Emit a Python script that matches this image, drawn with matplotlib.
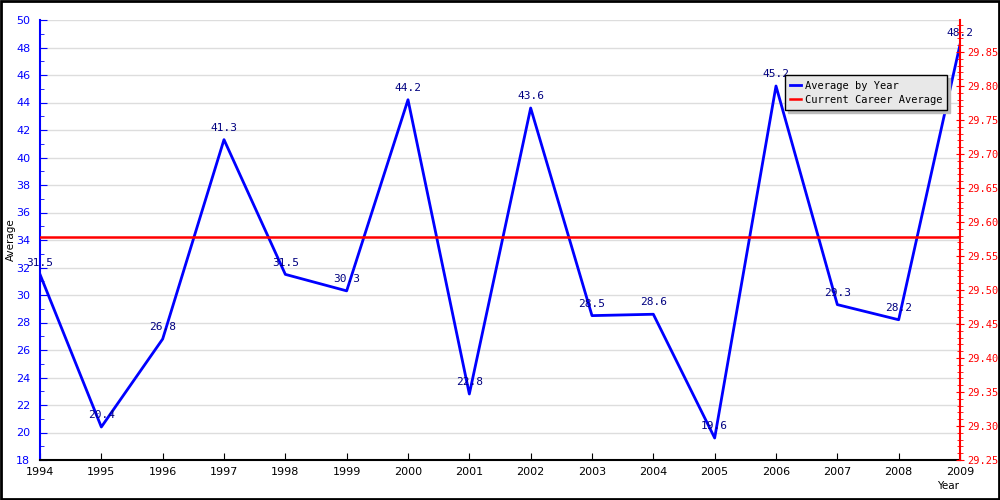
import matplotlib.pyplot as plt
from matplotlib.ticker import MultipleLocator, FormatStrFormatter
from matplotlib.patches import Rectangle

years = [1994, 1995, 1996, 1997, 1998, 1999, 2000, 2001, 2002, 2003,
         2004, 2005, 2006, 2007, 2008, 2009]
averages = [31.5, 20.4, 26.8, 41.3, 31.5, 30.3, 44.2, 22.8, 43.6, 28.5,
            28.6, 19.6, 45.2, 29.3, 28.2, 48.2]
career_avg = 29.578

fig = plt.figure(figsize=(10, 5), dpi=100)
fig.patch.set_facecolor("white")
fig.add_artist(Rectangle((0.001, 0.002), 0.998, 0.996, transform=fig.transFigure,
                         fill=False, edgecolor="black", linewidth=2))

ax = fig.add_axes([0.04, 0.08, 0.92, 0.88])
ax2 = ax.twinx()

# Average by year (left axis)
ax.plot(years, averages, color="blue", linewidth=2, label="Average by Year", zorder=3)
for x, y in zip(years, averages):
    ax.text(x, y + 0.5, f"{y:.1f}", ha="center", va="bottom", color="#000080",
            fontsize=8, family="DejaVu Sans Mono", zorder=4)

ax.set_xlim(1994, 2009)
ax.set_ylim(18, 50)
ax.set_xticks(years)
ax.yaxis.set_major_locator(MultipleLocator(2))
ax.yaxis.set_minor_locator(MultipleLocator(1))
ax.grid(axis="y", which="major", color="#dddddd", linewidth=1)
ax.set_axisbelow(True)
ax.tick_params(axis="y", which="both", colors="blue", labelsize=8, direction="in", pad=7)
ax.tick_params(axis="y", which="major", length=5)
ax.tick_params(axis="y", which="minor", length=3)
ax.tick_params(axis="x", direction="in", length=5, labelsize=8, colors="black", pad=5)
ax.spines["left"].set_color("blue")
ax.spines["left"].set_linewidth(1.5)
ax.spines["bottom"].set_linewidth(1.5)
ax.spines["top"].set_visible(False)
ax.spines["right"].set_visible(False)
fig.text(0.011, 0.52, "Average", rotation=90, ha="center", va="center", fontsize=7.5)
fig.text(0.948, 0.028, "Year", ha="center", va="center", fontsize=7.5)

# Career average (right axis)
ax2.axhline(career_avg, color="red", linewidth=1.8, label="Current Career Average")
ax2.set_ylim(29.25, 29.897)
ax2.yaxis.set_major_locator(MultipleLocator(0.05))
ax2.yaxis.set_minor_locator(MultipleLocator(0.01))
ax2.yaxis.set_major_formatter(FormatStrFormatter("%.2f"))
ax2.tick_params(axis="y", which="both", colors="red", labelsize=8, direction="inout", pad=2)
ax2.tick_params(axis="y", which="major", length=6)
ax2.tick_params(axis="y", which="minor", length=5)
for lbl in ax2.get_yticklabels():
    lbl.set_family("DejaVu Sans Mono")
    lbl.set_fontsize(7.5)
ax2.spines["right"].set_color("red")
ax2.spines["right"].set_linewidth(1.5)
ax2.spines["top"].set_visible(False)
ax2.spines["left"].set_visible(False)
ax2.spines["bottom"].set_visible(False)

h1, l1 = ax.get_legend_handles_labels()
h2, l2 = ax2.get_legend_handles_labels()
leg = ax2.legend(h1 + h2, l1 + l2, loc="upper right", bbox_to_anchor=(0.992, 0.886),
                 prop={"family": "DejaVu Sans Mono", "size": 7.5}, fancybox=False,
                 shadow={"color": "#bbbbbb", "alpha": 1}, framealpha=1,
                 handlelength=1.0, handletextpad=0.4,
                 borderpad=0.5, labelspacing=0.4)
leg.get_frame().set_facecolor("#e8e8e8")
leg.get_frame().set_edgecolor("black")

plt.savefig("out.png", dpi=100)
